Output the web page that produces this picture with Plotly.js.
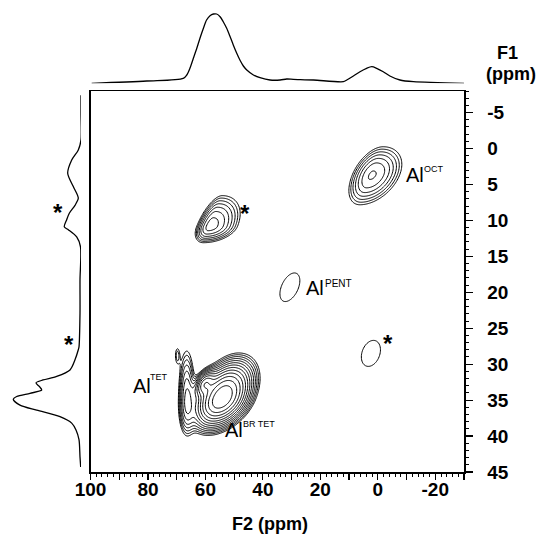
<!DOCTYPE html>
<html><head><meta charset="utf-8">
<script src="https://cdn.plot.ly/plotly-3.0.1.min.js"></script>
<style>html,body{margin:0;padding:0;background:#fff}</style>
</head><body>
<div id="chart" style="width:541px;height:536px"></div>
<script>
// ---- F2 projection (top) ----
const f2ProjPpm = [99.6,80.4,67.7,66.5,65.4,64.2,63.0,61.9,60.7,59.6,58.4,57.2,56.1,54.9,53.8,52.6,51.4,50.3,49.1,48.0,46.8,45.6,43.3,41.0,37.5,34.0,31.7,29.4,22.4,12.0,10.8,8.5,6.2,3.9,2.1,0.4,-1.9,-4.2,-7.7,-12.4,-30];
const f2ProjInt = [0,2.3,5,8.3,15,25,35,45,55,63.3,67.6,69.3,69.3,66.6,61.6,55,46.6,38.3,30,23.3,17.3,13.3,8.3,5.6,3.3,3.3,4.3,4,3.3,1.6,3.3,7.3,11.6,15,16.6,15,11.6,7.3,3.3,1.6,0];
// ---- F1 projection (left) ----
const f1ProjPpm = [-7.4,-4.9,-1.2,0.2,1.6,3.45,5.3,6.9,7.9,9.0,9.9,10.9,11.3,12.3,13.7,18.3,22.9,27.6,28.0,29.4,30.8,31.7,32.2,32.6,33.1,33.6,34.05,34.5,34.9,35.7,36.4,37.3,38.2,39.15,40.5,42.9,44.3];
const f1ProjInt = [0,0,0,2.7,9.3,13.3,7.7,2.7,6,11.7,14.3,16.7,12.7,4.3,0.5,1,1,2,2.7,6,11,24.3,38,45,41.7,39.3,51,64.3,67.7,61,44.3,21,9.3,5,2,1,0.3];
// ---- 2D peaks (F2, F1 in ppm) ----
const peakNames = ['OCT','SSB1','PENT','SSB2','BR TET','TET','TET strip','TET spike'];
const peakF2 = [2.1, 58.4, 30.6, 2.4, 54.3, 60.3, 66.5, 69.8];
const peakF1 = [3.7, 10.8, 19.3, 28.5, 34.7, 32.7, 35.0, 28.8];
const peakAmp = [5, 5.5, 1.2, 1.2, 30, 10, 5, 1.4];
const peakShear = [1.0, 1.0, 0.8, 0.5, 0.93, 0.9, 0, 0];
const peakWidthLeft = [3.8, 2.5, 5.1, 5.3, 4.2, 1.8, 1.6, 0.7];
const peakWidthRight = [5.4, 5.2, 5.1, 5.3, 4.6, 1.8, 1.6, 0.7];
const peakWidthUp = [2.2, 2.3, 3.3, 3.0, 2.4, 1.0, 3.8, 1.0];
const peakWidthDown = [2.3, 1.25, 3.3, 3.0, 2.0, 1.0, 2.6, 1.0];
const contourRatio = 1.3;
// ---- ticks ----
const xTickVals = [100,90,80,70,60,50,40,30,20,10,0,-10,-20,-30];
const xTickText = ['100','','80','','60','','40','','20','','0','','-20',''];
const yTickVals = [-5,0,5,10,15,20,25,30,35,40,45];
const yTickText = ['-5','0','5','10','15','20','25','30','35','40','45'];

// sampling grid
const gx = [], gy = [];
for (let i = 0; i <= 520; i++) gx.push(100 - i * 0.25);
for (let j = 0; j <= 265; j++) gy.push(-8 + j * 0.2);
const z = gy.map(f1 => gx.map(f2 => {
  let s = 0;
  for (let p = 0; p < peakF2.length; p++) {
    const dy = f1 - peakF1[p];
    const dx = f2 - peakF2[p] - peakShear[p] * dy;
    const sx = dx > 0 ? peakWidthLeft[p] : peakWidthRight[p];
    const sy = dy > 0 ? peakWidthDown[p] : peakWidthUp[p];
    s += peakAmp[p] * Math.exp(-0.5 * ((dx / sx) ** 2 + (dy / sy) ** 2));
  }
  return Math.log(s + 1e-9);
}));

const FONT = 'Liberation Sans, Arial, sans-serif';
const traces = [
  {type:'contour', x:gx, y:gy, z:z, xaxis:'x', yaxis:'y', showscale:false,
   autocontour:false, contours:{start:0, end:Math.log(40), size:Math.log(contourRatio), coloring:'none'},
   line:{color:'#000', width:1, smoothing:1}, hoverinfo:'skip'},
  {type:'scatter', mode:'lines', x:f2ProjPpm, y:f2ProjInt, xaxis:'x2', yaxis:'y2',
   line:{color:'#000', width:1.3, shape:'spline', smoothing:0.8}, hoverinfo:'skip'},
  {type:'scatter', mode:'lines', x:f1ProjInt, y:f1ProjPpm, xaxis:'x3', yaxis:'y3',
   line:{color:'#000', width:1.3, shape:'spline', smoothing:0.8}, hoverinfo:'skip'}
];

const tickFont = {family:FONT, size:19, weight:'bold', color:'#000'};
const titleFont = {family:FONT, size:18, weight:'bold', color:'#000'};
const labelFont = {family:FONT, size:20, color:'#000'};
const supFont = {family:FONT, size:9, color:'#000'};
const starFont = {family:FONT, size:24, weight:'bold', color:'#000'};

function lab(x, y, text, font, xref, yref, extra) {
  return Object.assign({x:x, y:y, xref:xref||'x', yref:yref||'y', text:text, showarrow:false,
    font:font, xanchor:'center', yanchor:'middle'}, extra||{});
}

const annotations = [
  lab(-13.0, 3.7, 'Al', labelFont), lab(-19.6, 2.8, 'OCT', supFont),
  lab(21.9, 19.4, 'Al', labelFont), lab(13.6, 18.8, 'PENT', {family:FONT, size:10, color:'#000'}),
  lab(82.2, 33.0, 'Al', labelFont), lab(76.0, 31.8, 'TET', supFont),
  lab(50.2, 39.2, 'Al', labelFont), lab(41.4, 38.3, 'BR TET', supFont),
  lab(46.2, 8.6, '*', starFont, 'x', 'y', {yshift:-3}),
  lab(-3.5, 26.7, '*', starFont, 'x', 'y', {yshift:-3}),
  lab(23, 8.55, '*', starFont, 'x3', 'y3', {yshift:-3}),
  lab(12, 26.9, '*', starFont, 'x3', 'y3', {yshift:-3}),
  lab(270/464, (472-524)/472, 'F2 (ppm)', titleFont, 'paper', 'paper'),
  lab(507/464, (472-53)/472, 'F1', titleFont, 'paper', 'paper'),
  lab(511/464, (472-74)/472, '(ppm)', titleFont, 'paper', 'paper')
];

const layout = {
  width:541, height:536, margin:{l:0, r:77, t:0, b:64},
  paper_bgcolor:'#fff', plot_bgcolor:'#fff', showlegend:false,
  font:{family:FONT, color:'#000'},
  xaxis:{domain:[90.5/464, 1], range:[100, -30], anchor:'y', showline:true, mirror:true,
    linecolor:'#000', linewidth:1.5, ticks:'outside', ticklen:6, tickwidth:1.2, tickcolor:'#000',
    tickmode:'array', tickvals:xTickVals, ticktext:xTickText, tickfont:tickFont, ticklabelstandoff:-6,
    minor:{dtick:2, tick0:0, ticks:'outside', ticklen:3.5, tickwidth:1, tickcolor:'#000'},
    showgrid:false, zeroline:false},
  yaxis:{domain:[0, 381/472], range:[45, -8], anchor:'x', side:'right', showline:true, mirror:true,
    linecolor:'#000', linewidth:1.5, ticks:'outside', ticklen:7, tickwidth:1.2, tickcolor:'#000',
    tickmode:'array', tickvals:yTickVals, ticktext:yTickText, tickfont:tickFont, ticklabelstandoff:11,
    minor:{dtick:1, tick0:0, ticks:'outside', ticklen:3.5, tickwidth:1, tickcolor:'#000'},
    showgrid:false, zeroline:false},
  xaxis2:{domain:[90.5/464, 1], range:[100, -30], anchor:'y2', visible:false},
  yaxis2:{domain:[(472-83.3)/472, 1], range:[0, 83.3], anchor:'x2', visible:false},
  xaxis3:{domain:[0, 81/464], range:[81, 0], anchor:'y3', visible:false},
  yaxis3:{domain:[0, 381/472], range:[45, -8], anchor:'x3', visible:false},
  annotations:annotations
};

Plotly.newPlot('chart', traces, layout, {staticPlot:true, displayModeBar:false});
</script>
</body></html>
